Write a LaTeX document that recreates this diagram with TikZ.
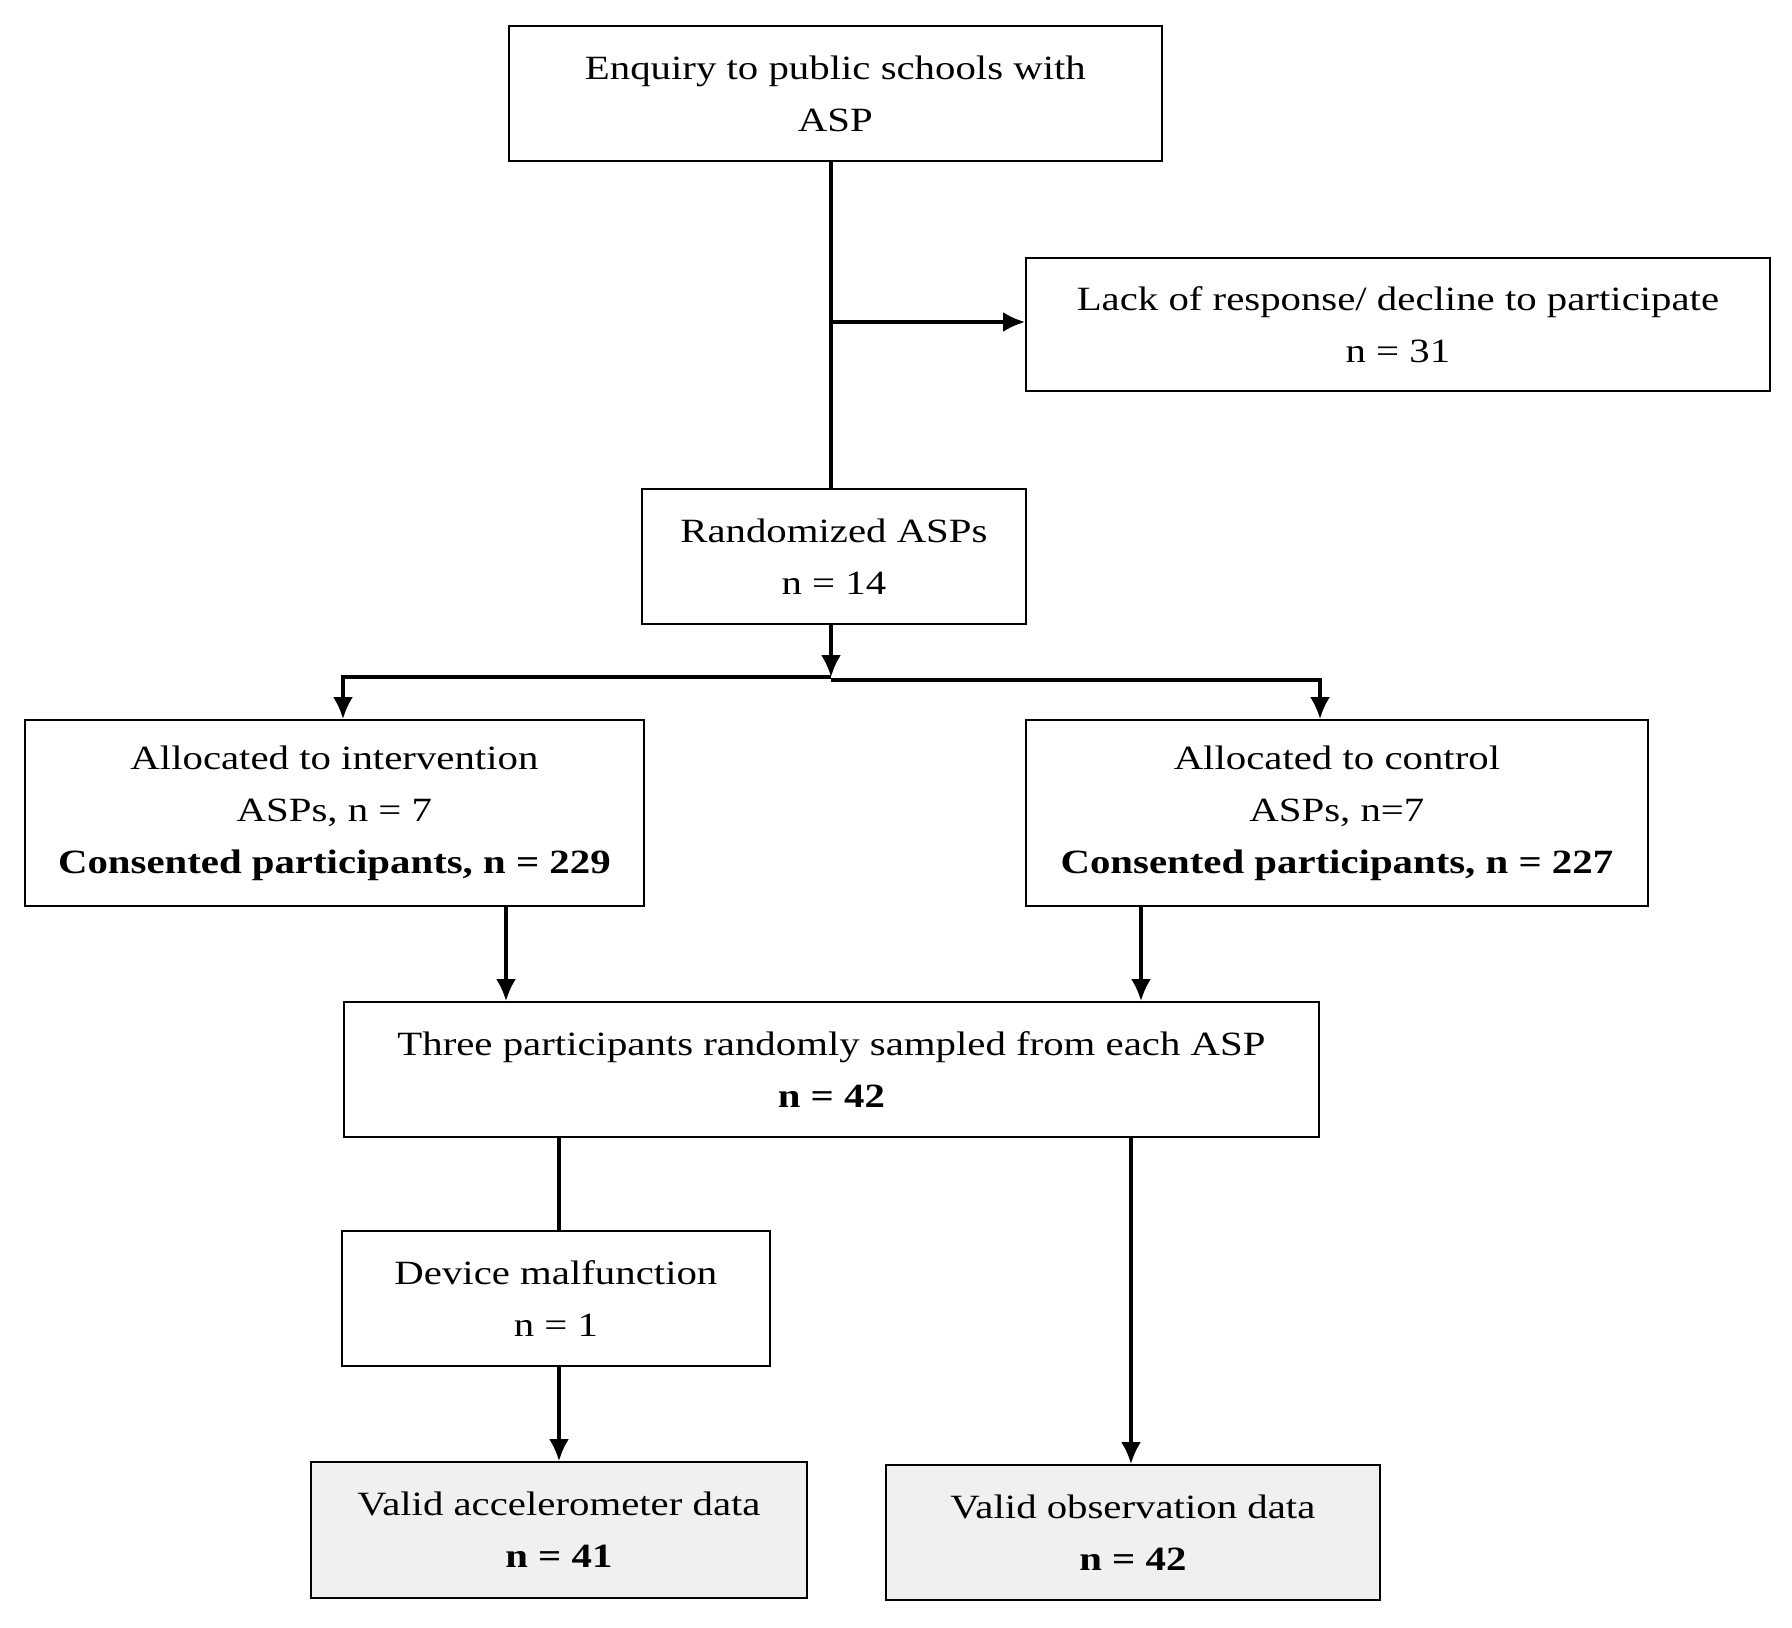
\documentclass[tikz,border=0pt]{standalone}
\usepackage{fontspec}
\setmainfont{Liberation Serif}[FakeStretch=1.2]
\usetikzlibrary{arrows.meta}
\definecolor{boxgray}{HTML}{F0F0F0}
\begin{document}
\begin{tikzpicture}[x=1pt,y=-1pt,
  box/.style={draw=black,line width=1.8pt,align=center,inner sep=0pt,anchor=north west,
    font=\fontsize{34}{52}\selectfont},
  graybox/.style={box,fill=boxgray},
  conn/.style={line width=3.2pt},
  arr/.style={conn,-{Latex[length=22pt,width=20pt]}}]
\useasboundingbox[fill=white] (0,0) rectangle (1792,1628);
\node[box,minimum width=653pt,minimum height=135pt] (enq) at (508,25) {Enquiry to public schools with\\ASP};
\node[box,minimum width=744pt,minimum height=133pt] (lack) at (1025,257) {Lack of response/ decline to participate\\n = 31};
\node[box,minimum width=384pt,minimum height=135pt] (rand) at (641,488) {Randomized ASPs\\n = 14};
\node[box,minimum width=619pt,minimum height=186pt] (int) at (24,719) {Allocated to intervention\\ASPs, n = 7\\\textbf{Consented participants, n = 229}};
\node[box,minimum width=622pt,minimum height=186pt] (ctl) at (1025,719) {Allocated to control\\ASPs, n=7\\\textbf{Consented participants, n = 227}};
\node[box,minimum width=975pt,minimum height=135pt] (three) at (343,1001) {Three participants randomly sampled from each ASP\\\textbf{n = 42}};
\node[box,minimum width=428pt,minimum height=135pt] (dev) at (341,1230) {Device malfunction\\n = 1};
\node[graybox,minimum width=496pt,minimum height=136pt] (acc) at (310,1461) {Valid accelerometer data\\\textbf{n = 41}};
\node[graybox,minimum width=494pt,minimum height=135pt] (obs) at (885,1464) {Valid observation data\\\textbf{n = 42}};
\coordinate (split) at (831,677);
\draw[conn] (enq.south -| 831,0) -- (rand.north -| 831,0);
\draw[arr] (831,322) -- (lack.west |- 831,322);
\draw[arr] (rand.south -| split) -- (split);
\draw[arr] (split) -- (343,677) -- (int.north -| 343,0);
\draw[arr] (split) ++(0,3) -- (1320,680) -- (ctl.north -| 1320,0);
\draw[arr] (int.south -| 506,0) -- (three.north -| 506,0);
\draw[arr] (ctl.south -| 1141,0) -- (three.north -| 1141,0);
\draw[conn] (three.south -| 559,0) -- (dev.north -| 559,0);
\draw[arr] (dev.south -| 559,0) -- (acc.north -| 559,0);
\draw[arr] (three.south -| 1131,0) -- (obs.north -| 1131,0);
\end{tikzpicture}
\end{document}
